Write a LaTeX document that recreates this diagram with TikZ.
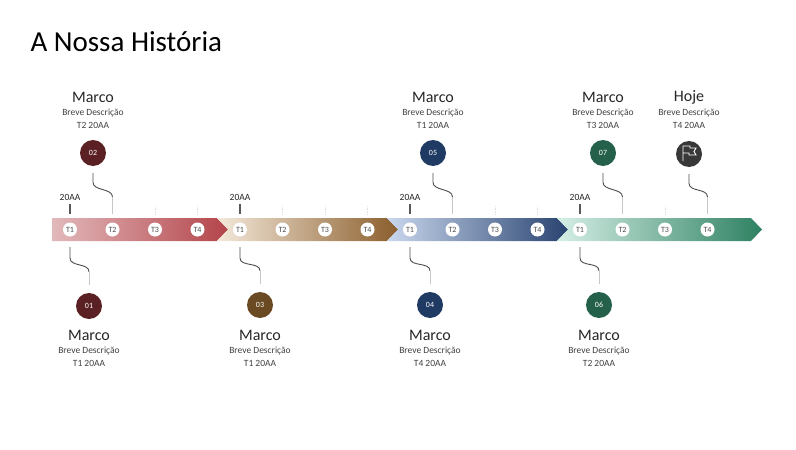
\documentclass[tikz,border=0pt]{standalone}
\usepackage{fontspec}
\setmainfont{Carlito}
\usetikzlibrary{calc}

\definecolor{redA}{HTML}{E2B9BB}
\definecolor{redB}{HTML}{B3444A}
\definecolor{redC}{HTML}{5A2023}
\definecolor{brnA}{HTML}{F4E9DB}
\definecolor{brnB}{HTML}{8B5E2C}
\definecolor{brnC}{HTML}{6A4A22}
\definecolor{bluA}{HTML}{CAD8EE}
\definecolor{bluB}{HTML}{294370}
\definecolor{bluC}{HTML}{1F3A63}
\definecolor{grnA}{HTML}{D6EFE6}
\definecolor{grnB}{HTML}{2E8162}
\definecolor{grnC}{HTML}{24604A}
\definecolor{flagC}{HTML}{383838}

\begin{document}
\begin{tikzpicture}[x=1pt, y=-1pt,
    qtr/.style={circle, fill=white, inner sep=0pt, minimum size=14pt, font=\fontsize{8}{8}\selectfont, text=black!70},
    dot/.style={circle, inner sep=0pt, minimum size=26pt, font=\fontsize{8}{8}\selectfont, text=white},
    head/.style={font=\fontsize{16}{16}\selectfont, text=black!85},
    small/.style={font=\fontsize{9.5}{9.5}\selectfont, text=black!75},
    link/.style={line width=0.9pt, black!70},
    tail/.style={line width=0.9pt, black!22},
    faint/.style={line width=0.6pt, black!12, densely dotted},
    year/.style={line width=1.5pt, black!65}]

    \useasboundingbox (0,0) rectangle (796,450);

    \node[anchor=base west, font=\fontsize{29}{29}\selectfont, text=black] (title) at (27,51) {A Nossa História};

    % band
    \shade[left color=redA, right color=redB] (52,218) -- (217,218) -- (228,229.5) -- (217,241) -- (52,241) -- cycle;
    \shade[left color=brnA, right color=brnB] (217,218) -- (387,218) -- (398,229.5) -- (387,241) -- (217,241) -- (228,229.5) -- cycle;
    \shade[left color=bluA, right color=bluB] (387,218) -- (557,218) -- (568,229.5) -- (557,241) -- (387,241) -- (398,229.5) -- cycle;
    \shade[left color=grnA, right color=grnB] (557,218) -- (751,218) -- (762,229.5) -- (751,241) -- (557,241) -- (568,229.5) -- cycle;

    \foreach \s in {0,...,3} {
        \foreach \q in {1,...,4}
            \node[qtr] (t\s\q) at ({70+170*\s+42.5*(\q-1)}, 229.5) {T\q};
        \draw[year] ({70+170*\s},204) -- ({70+170*\s},214);
        \node[small, text=black!85] (y\s) at ({70+170*\s},197) {20AA};
    }

    % faint ticks
    \foreach \x in {155, 197.5, 282.5, 325, 367.5, 495, 537.5, 665}
        \draw[faint] (\x,206) -- (\x,215);

    % above
    \node[dot, fill=redC] (m2) at (93,153) {02};
    \node[head] (h2) at (93,97) {Marco};
    \node[small] (d2) at (93,113) {Breve Descrição};
    \node[small] (q2) at (93,125) {T2 20AA};
    \coordinate (k2) at (112.5,214);

    \node[dot, fill=bluC] (m5) at (433,153) {05};
    \node[head] (h5) at (433,97) {Marco};
    \node[small] (d5) at (433,113) {Breve Descrição};
    \node[small] (q5) at (433,125) {T1 20AA};
    \coordinate (k5) at (452.5,214);

    \node[dot, fill=grnC] (m7) at (603,153) {07};
    \node[head] (h7) at (603,97) {Marco};
    \node[small] (d7) at (603,113) {Breve Descrição};
    \node[small] (q7) at (603,125) {T3 20AA};
    \coordinate (k7) at (622.5,214);

    \node[dot, fill=flagC] (fl) at (689,154) {};
    \node[head] (hf) at (689,97) {Hoje};
    \node[small] (df) at (689,113) {Breve Descrição};
    \node[small] (qf) at (689,125) {T4 20AA};
    \coordinate (kf) at (707.5,214);

    \begin{scope}[shift={(fl)}]
        \draw[white, line width=0.9pt] (-6,7) -- (-6,-8) -- (1,-8) -- (1,-6) -- (7,-6) -- (5,-2.5) -- (7,1) -- (0,1) -- (0,-1) -- (-6,-1);
    \end{scope}

    \foreach \m/\k in {m2/k2, m5/k5, m7/k7, fl/kf} {
        \draw[link] ($(\m.south)+(0,7)$) -- ($(\m.south)+(0,16)$) .. controls ($(\m.south)+(0,25)$) and ($(\k)+(0,-26)$) .. ($(\k)+(0,-17)$);
        \draw[tail] ($(\k)+(0,-17)$) -- (\k);
    }

    % below
    \node[dot, fill=redC] (m1) at (89,306) {01};
    \node[head] (h1) at (89,335) {Marco};
    \node[small] (d1) at (89,351) {Breve Descrição};
    \node[small] (q1) at (89,363) {T1 20AA};
    \coordinate (k1) at (70,247);

    \node[dot, fill=brnC] (m3) at (260,305) {03};
    \node[head] (h3) at (260,335) {Marco};
    \node[small] (d3) at (260,351) {Breve Descrição};
    \node[small] (q3) at (260,363) {T1 20AA};
    \coordinate (k3) at (240,247);

    \node[dot, fill=bluC] (m4) at (430,305) {04};
    \node[head] (h4) at (430,335) {Marco};
    \node[small] (d4) at (430,351) {Breve Descrição};
    \node[small] (q4) at (430,363) {T4 20AA};
    \coordinate (k4) at (410,247);

    \node[dot, fill=grnC] (m6) at (599,305) {06};
    \node[head] (h6) at (599,335) {Marco};
    \node[small] (d6) at (599,351) {Breve Descrição};
    \node[small] (q6) at (599,363) {T2 20AA};
    \coordinate (k6) at (580,247);

    \foreach \m/\k in {m1/k1, m3/k3, m4/k4, m6/k6} {
        \draw[link] (\k) -- ($(\k)+(0,11)$) .. controls ($(\k)+(0,20)$) and ($(\m.north)+(0,-30)$) .. ($(\m.north)+(0,-21)$);
        \draw[tail] ($(\m.north)+(0,-21)$) -- ($(\m.north)+(0,-8)$);
    }
\end{tikzpicture}
\end{document}
